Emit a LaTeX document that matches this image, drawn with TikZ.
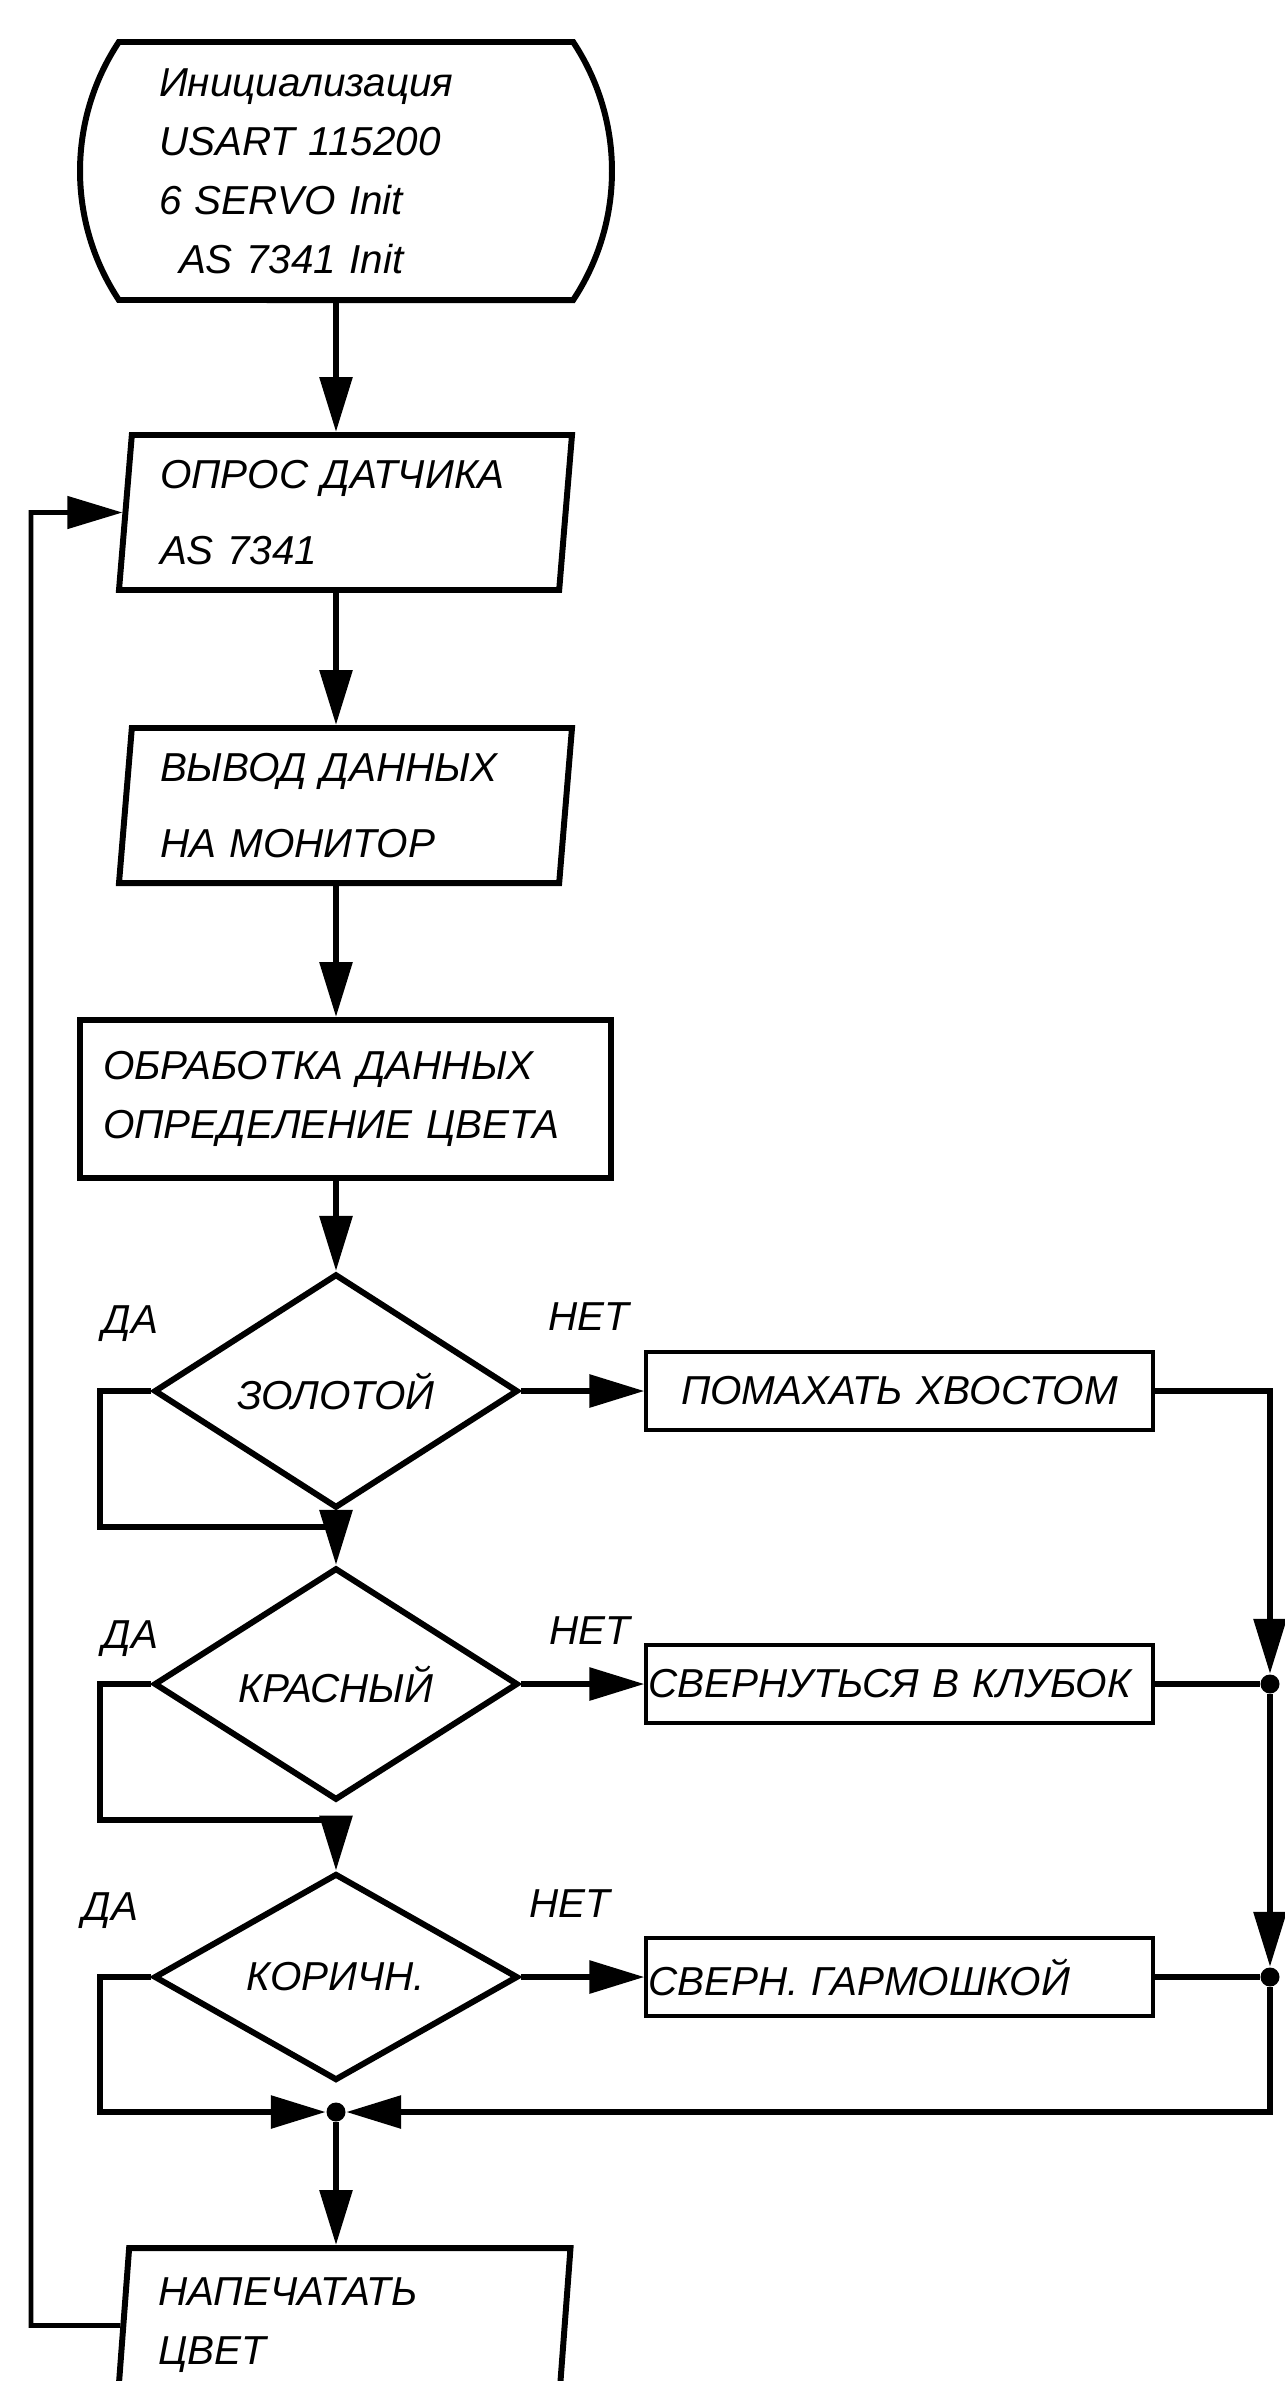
\documentclass[tikz,border=0pt]{standalone}
\usepackage{fontspec}
\setmainfont{Liberation Sans}
\usetikzlibrary{shapes.geometric,shapes.misc,arrows.meta}
\tikzset{
	txt/.style={font=\itshape\fontsize{11.5}{16.8}\selectfont},
	thickline/.style={line width=1.7pt},
	arr/.style={thickline,-{Triangle[length=5.5mm,width=3.2mm]}},
	startstop/.style={txt,draw,thickline,rounded rectangle,rounded rectangle arc length=67,
		minimum width=5.32cm,minimum height=2.58cm,text width=3.74cm,align=left,inner sep=0pt},
	iobox/.style={txt,draw,thickline,trapezium,trapezium left angle=83,trapezium right angle=97,
		trapezium stretches body=true,minimum width=4.53cm,minimum height=1.55cm,
		text width=3.71cm,align=left,inner sep=0pt},
	procbox/.style={txt,draw,thickline,minimum width=5.31cm,minimum height=1.58cm,
		text width=4.85cm,align=left,inner sep=0pt},
	actbox/.style={txt,draw,line width=0.9pt,minimum width=5.07cm,minimum height=0.78cm,
		text width=5.03cm,inner sep=0pt},
	decide/.style={txt,draw,thickline,diamond,minimum width=3.64cm,minimum height=1.55cm,inner sep=0pt},
	yesno/.style={txt,anchor=base west,inner sep=0pt},
	junction/.style={circle,fill,inner sep=0pt,minimum size=1.9mm},
}
\begin{document}
\begin{tikzpicture}
	\useasboundingbox (0,0) rectangle (12.85,-23.81);
	\clip (0,0) rectangle (12.85,-23.81);

	%main column
	\node[startstop] (init) at (3.46,-1.71) {Инициализация\\USART 115200\\6 SERVO Init\\\hspace*{2mm}AS 7341 Init};
	\node[iobox,font=\itshape\fontsize{11.5}{21.6}\selectfont] (opros) at (3.455,-5.125) {ОПРОС ДАТЧИКА\\AS 7341};
	\node[iobox,font=\itshape\fontsize{11.5}{21.6}\selectfont] (vyvod) at (3.455,-8.055) {ВЫВОД ДАННЫХ\\НА МОНИТОР};
	\node[procbox] (obrab) at (3.455,-10.99) {ОБРАБОТКА ДАННЫХ\\ОПРЕДЕЛЕНИЕ ЦВЕТА};
	\node[iobox] (print) at (3.44,-23.255) {НАПЕЧАТАТЬ\\ЦВЕТ};

	%decisions and actions
	\node[decide] (gold) at (3.36,-13.91) {ЗОЛОТОЙ};
	\node[decide] (red) at (3.36,-16.84) {КРАСНЫЙ};
	\node[decide] (brown) at (3.36,-19.77) {КОРИЧН.};
	\node[actbox,align=center] (tail) at (8.995,-13.91) {ПОМАХАТЬ ХВОСТОМ};
	\node[actbox,align=left] (ball) at (8.995,-16.84) {СВЕРНУТЬСЯ В КЛУБОК};
	\node[actbox,align=left] (fold) at (8.995,-19.77) {СВЕРН. ГАРМОШКОЙ};

	\foreach \n/\x/\y/\t in {yes1/1.02/-13.33/ДА, no1/5.48/-13.30/НЕТ,
		yes2/1.02/-16.48/ДА, no2/5.49/-16.44/НЕТ,
		yes3/0.82/-19.20/ДА, no3/5.29/-19.17/НЕТ}{
		\node[yesno] (\n) at (\x,\y) {\t};
	}

	%junctions
	\node[junction] (dot1) at (12.70,-16.84) {};
	\node[junction] (dot2) at (12.70,-19.77) {};
	\node[junction] (dot3) at (3.36,-21.12) {};
	\coordinate (yes1c) at (1.00,-15.27);
	\coordinate (yes2c) at (1.00,-18.20);
	\coordinate (yes3c) at (1.00,-21.12);
	\coordinate (loopc) at (0.31,-5.125);

	%connectors
	\draw[arr] (init.south -| gold.north) -- (opros.north -| gold.north);
	\draw[arr] (opros.south -| gold.north) -- (vyvod.north -| gold.north);
	\draw[arr] (vyvod.south -| gold.north) -- (obrab.north -| gold.north);
	\draw[arr] (obrab.south -| gold.north) -- (gold.north);
	\draw[arr] (gold.west) -| (yes1c) -| (red.north);
	\draw[arr] (red.west) -| (yes2c) -| (brown.north);
	\draw[arr] (brown.west) -| (yes3c) -- (dot3);
	\draw[arr] (gold.east) -- (tail.west);
	\draw[arr] (red.east) -- (ball.west);
	\draw[arr] (brown.east) -- (fold.west);
	\draw[arr] (tail.east) -| (dot1);
	\draw[thickline] (ball.east) -- (dot1);
	\draw[arr] (dot1) -- (dot2);
	\draw[thickline] (fold.east) -- (dot2);
	\draw[arr] (dot2) |- (dot3);
	\draw[arr] (dot3) -- (print.north -| dot3);
	\draw[arr,line width=1.3pt] (print.west) -| (loopc) -- (opros.west);
\end{tikzpicture}
\end{document}
